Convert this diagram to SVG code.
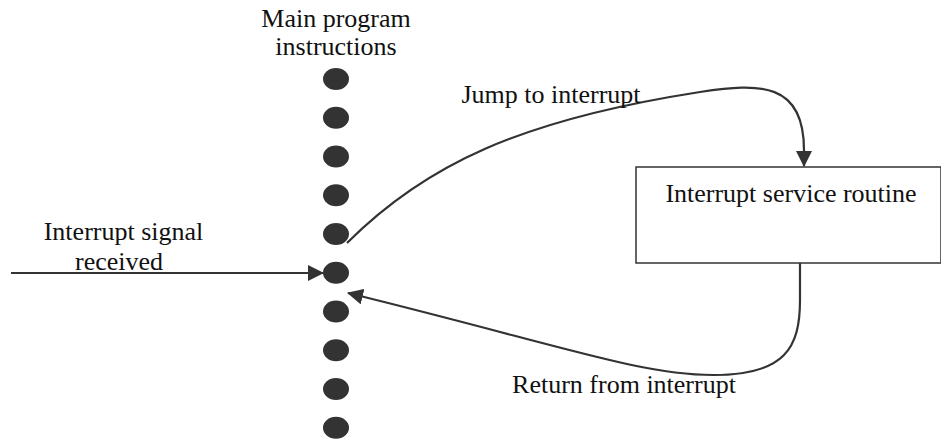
<svg xmlns="http://www.w3.org/2000/svg" width="941" height="441" viewBox="0 0 941 441">
  <style>
    .lbl { font-family: "Liberation Serif", "Times New Roman", serif; font-size: 26px; fill: #111; text-anchor: middle; }
    .dot { fill: #333; }
    .conn { fill: none; stroke: #333; stroke-width: 2.2; }
    .box { fill: #fff; stroke: #333; stroke-width: 1.5; }
  </style>
  <defs>
    <marker id="arrow" markerUnits="userSpaceOnUse" markerWidth="16" markerHeight="16" viewBox="0 0 16 16" refX="15" refY="8" orient="auto">
      <path d="M0,0 L16,8 L0,16 Z" fill="#333"/>
    </marker>
  </defs>

  <!-- main program: column of instructions -->
  <g id="main-program">
    <text class="lbl" x="336" y="27">Main program</text>
    <text class="lbl" x="336" y="55">instructions</text>
    <ellipse class="dot" cx="336" cy="79" rx="13" ry="11"/>
    <ellipse class="dot" cx="336" cy="117.75" rx="13" ry="11"/>
    <ellipse class="dot" cx="336" cy="156.5" rx="13" ry="11"/>
    <ellipse class="dot" cx="336" cy="195.25" rx="13" ry="11"/>
    <ellipse class="dot" cx="336" cy="234" rx="13" ry="11"/>
    <ellipse class="dot" cx="336" cy="272.75" rx="13" ry="11"/>
    <ellipse class="dot" cx="336" cy="311.5" rx="13" ry="11"/>
    <ellipse class="dot" cx="336" cy="350.25" rx="13" ry="11"/>
    <ellipse class="dot" cx="336" cy="389" rx="13" ry="11"/>
    <ellipse class="dot" cx="336" cy="427.75" rx="13" ry="11"/>
  </g>

  <!-- interrupt service routine -->
  <g id="isr">
    <rect class="box" x="636" y="167" width="305" height="96"/>
    <text class="lbl" x="791" y="202">Interrupt service routine</text>
  </g>

  <!-- connectors -->
  <g id="connectors">
    <path class="conn" d="M11,273 L323,273" marker-end="url(#arrow)"/>
    <path class="conn" d="M347,243 C425,165 520,120 700,92 C760,83 804,82 804,150 L804,166" marker-end="url(#arrow)"/>
    <path class="conn" d="M800,263 L800,300 C800,348 785,375 713,375 C640,375 560,345 348,293" marker-end="url(#arrow)"/>
    <text class="lbl" x="123.5" y="240">Interrupt signal</text>
    <text class="lbl" x="119" y="270">received</text>
    <text class="lbl" x="551" y="103">Jump to interrupt</text>
    <text class="lbl" x="624" y="393">Return from interrupt</text>
  </g>
</svg>
